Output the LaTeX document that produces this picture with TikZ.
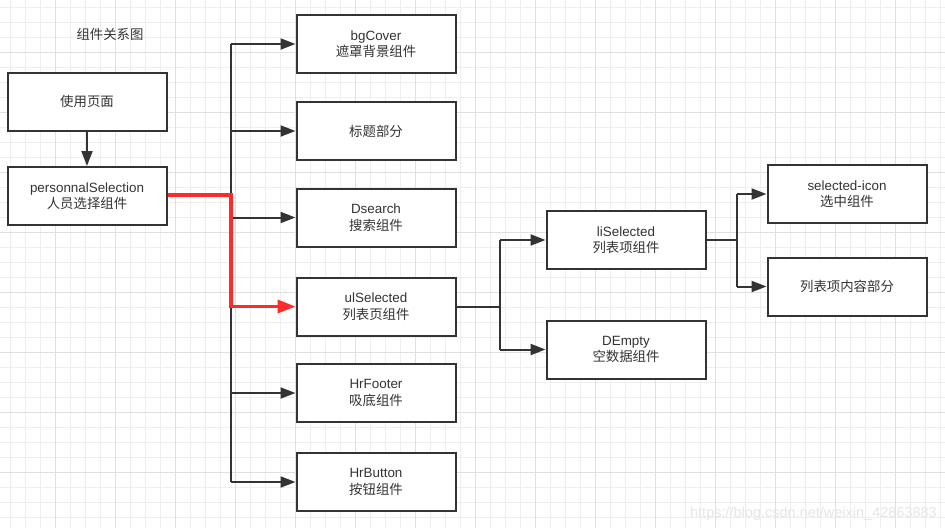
\documentclass[tikz,border=0pt]{standalone}
\usepackage{fontspec}
\setmainfont{Liberation Sans}
\newfontfamily\cjk{Noto Sans CJK SC}
\usetikzlibrary{arrows.meta}
\definecolor{ink}{HTML}{333333}
\definecolor{redline}{HTML}{FF2A2A}
\definecolor{gminor}{HTML}{EEEEEE}
\definecolor{gmajor}{HTML}{E0E0E0}
\definecolor{wmark}{HTML}{E6E6E6}
\begin{document}
\begin{tikzpicture}[x=1pt,y=-1pt,
  box/.style={draw=ink, line width=2pt, fill=white, minimum width=159pt, minimum height=58pt,
    inner sep=0pt, align=center, font=\fontsize{13.4}{16.5}\selectfont, text=ink},
  conn/.style={draw=ink, line width=2pt},
  tipk/.style={-{Triangle[length=15pt,width=11pt]}},
  hot/.style={draw=redline, line width=3.4pt},
  tipr/.style={-{Triangle[length=18pt,width=13pt]}},
  gridminor/.style={draw=gminor, line width=0.9pt},
  gridmajor/.style={draw=gmajor, line width=0.9pt}]
\useasboundingbox (0,0) rectangle (945,528);
\fill[white] (0,0) rectangle (945,528);
% grid
\foreach \k in {0,...,62} \draw[gridminor] ({10.7+15*\k},0) -- ({10.7+15*\k},528);
\foreach \k in {0,...,34} \draw[gridminor] (0,{7.3+15*\k}) -- (945,{7.3+15*\k});
\foreach \k in {0,...,15} \draw[gridmajor] ({55.7+60*\k},0) -- ({55.7+60*\k},528);
\foreach \k in {0,...,8} \draw[gridmajor] (0,{52.3+60*\k}) -- (945,{52.3+60*\k});

% title
\node[text=ink, font=\cjk\fontsize{13.4}{16}\selectfont] (title) at (110,34) {组件关系图};

% column 1
\node[box] (page) at (87,101.5) {{\cjk 使用页面}};
\node[box] (ps) at (87,196) {personnalSelection\\{\cjk 人员选择组件}};

% column 2
\node[box] (bg) at (376,44) {bgCover\\{\cjk 遮罩背景组件}};
\node[box] (tt) at (376,131) {{\cjk 标题部分}};
\node[box] (ds) at (376,217.5) {Dsearch\\{\cjk 搜索组件}};
\node[box] (ul) at (376,306.5) {ulSelected\\{\cjk 列表页组件}};
\node[box] (hf) at (376,393) {HrFooter\\{\cjk 吸底组件}};
\node[box] (hb) at (376,482) {HrButton\\{\cjk 按钮组件}};

% column 3
\node[box] (li) at (626,240) {liSelected\\{\cjk 列表项组件}};
\node[box] (de) at (626,349.5) {DEmpty\\{\cjk 空数据组件}};

% column 4
\node[box] (si) at (847,194) {selected-icon\\{\cjk 选中组件}};
\node[box] (lc) at (847,286.5) {{\cjk 列表项内容部分}};

% connectors
\draw[conn,tipk] (page.south) -- (ps.north);

\coordinate (j1) at (231,195);
\draw[conn] (j1 |- bg.west) -- (j1 |- hb.west);
\foreach \t in {bg,tt,ds,hf,hb} \draw[conn,tipk] (j1 |- \t.west) -- (\t.west);
\draw[hot,tipr] (ps.east |- j1) -- (j1) |- (ul.west);

\coordinate (j2) at (500,306.5);
\draw[conn] (ul.east) -- (j2);
\draw[conn] (j2 |- li.west) -- (j2 |- de.west);
\foreach \t in {li,de} \draw[conn,tipk] (j2 |- \t.west) -- (\t.west);

\coordinate (j3) at (737,240);
\draw[conn] (li.east) -- (j3);
\draw[conn] (j3 |- si.west) -- (j3 |- lc.west);
\foreach \t in {si,lc} \draw[conn,tipk] (j3 |- \t.west) -- (\t.west);

% watermark
\node[anchor=base east, text=wmark, font=\fontsize{14.5}{16}\selectfont, inner sep=0pt] (wm) at (937,517) {https://blog.csdn.net/weixin\_42863883};
\end{tikzpicture}
\end{document}
